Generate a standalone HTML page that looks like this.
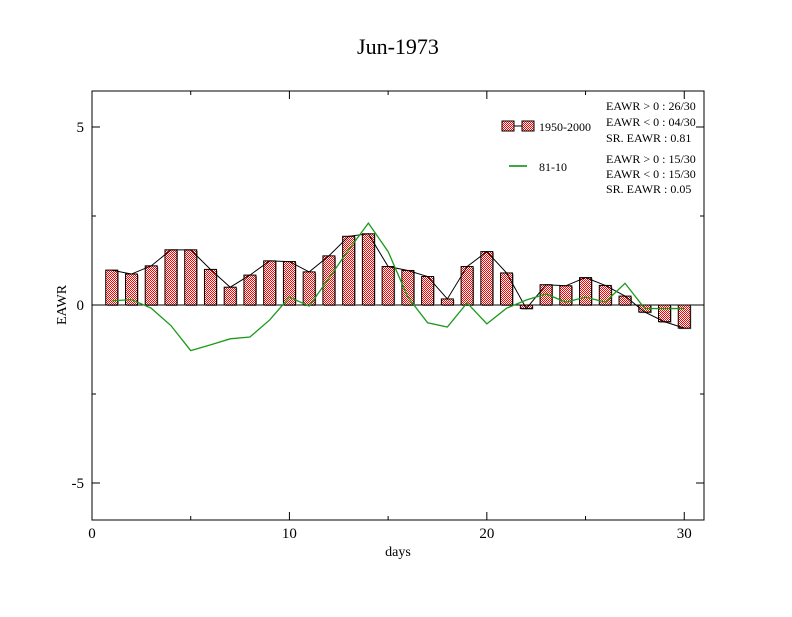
<!DOCTYPE html>
<html><head><meta charset="utf-8"><style>
body{margin:0;background:#fff}
svg text{font-family:"Liberation Serif",serif;fill:#000}
</style></head><body>
<svg id="chart" width="792" height="612" xmlns="http://www.w3.org/2000/svg">
<defs><pattern id="chk" width="2" height="2" patternUnits="userSpaceOnUse"><rect width="2" height="2" fill="#fff"/><rect width="1" height="1" fill="#f00"/><rect x="1" y="1" width="1" height="1" fill="#f00"/></pattern></defs>
<rect width="792" height="612" fill="#fff"/>
<text x="398" y="54" font-size="22" text-anchor="middle">Jun-1973</text>
<g id="marks"></g>
<rect x="92" y="91" width="612" height="429" fill="none" stroke="#000" stroke-width="1"/>
<g id="axes"></g>
<text x="398" y="556" font-size="14" text-anchor="middle">days</text>
<text transform="translate(66,305) rotate(-90)" font-size="14" text-anchor="middle">EAWR</text>
<g font-size="12">
<rect x="502" y="121" width="12" height="10" fill="url(#chk)" stroke="#000"/><line x1="514" y1="126" x2="522" y2="126" stroke="#000"/><rect x="522" y="121" width="12" height="10" fill="url(#chk)" stroke="#000"/>
<text x="539" y="131">1950-2000</text>
<line x1="509" y1="166" x2="527" y2="166" stroke="#080" stroke-width="1.5"/>
<text x="539" y="171">81-10</text>
<text x="606" y="110">EAWR &gt; 0 : 26/30</text>
<text x="606" y="126">EAWR &lt; 0 : 04/30</text>
<text x="606" y="142">SR. EAWR :  0.81</text>
<text x="606" y="163">EAWR &gt; 0 : 15/30</text>
<text x="606" y="178">EAWR &lt; 0 : 15/30</text>
<text x="606" y="193">SR. EAWR :  0.05</text>
</g>
</svg>
<script>
const days=[1,2,3,4,5,6,7,8,9,10,11,12,13,14,15,16,17,18,19,20,21,22,23,24,25,26,27,28,29,30];
const bars=[0.98,0.87,1.1,1.55,1.55,1.0,0.5,0.84,1.24,1.22,0.93,1.38,1.93,2.0,1.08,0.97,0.8,0.17,1.08,1.5,0.9,-0.1,0.57,0.54,0.77,0.55,0.25,-0.2,-0.47,-0.65];
const green=[0.12,0.15,-0.09,-0.58,-1.28,-1.12,-0.95,-0.9,-0.42,0.22,-0.03,0.75,1.55,2.3,1.5,0.22,-0.5,-0.62,0.06,-0.53,-0.09,0.14,0.31,0.08,0.22,0.08,0.61,-0.1,-0.1,-0.1];
const xTicks=[0,10,20,30];
const yTicks=[-5,0,5];
const X=d=>92+d*(612/31);
const Y=v=>305-v*35.6;
const NS="http://www.w3.org/2000/svg";
const marks=document.getElementById('marks'),axes=document.getElementById('axes');
function mk(t,a,p){const e=document.createElementNS(NS,t);for(const k in a)e.setAttribute(k,a[k]);p.appendChild(e);return e;}
// zero line
const z=mk('line',{x1:92,x2:704,y1:Y(0),y2:Y(0),stroke:'#000'},marks);


days.forEach((d,i)=>{
  const v=bars[i],y0=Math.min(Y(v),Y(0)),h=Math.abs(Y(v)-Y(0));
  const s=mk('rect',{x:X(d)-6+1,y:y0+1,width:12,height:h,fill:'#888'},marks);
  
  
  const r=mk('rect',{x:X(d)-6,y:y0,width:12,height:h,fill:'url(#chk)',stroke:'#000','stroke-width':1},marks);
  
  
});
const bl=mk('polyline',{points:days.map((d,i)=>X(d)+','+Y(bars[i])).join(' '),fill:'none',stroke:'#000','stroke-width':1},marks);


const gl=mk('polyline',{points:days.map((d,i)=>X(d)+','+Y(green[i])).join(' '),fill:'none',stroke:'#1a9a1a','stroke-width':1.3},marks);


xTicks.forEach(t=>{
  mk('line',{x1:X(t),x2:X(t),y1:520,y2:512,stroke:'#000'},axes);
  mk('line',{x1:X(t),x2:X(t),y1:91,y2:99,stroke:'#000'},axes);
  const tx=mk('text',{x:X(t),y:538,'font-size':15,'text-anchor':'middle'},axes);tx.textContent=t;
  
  
});
[5,15,25].forEach(t=>{mk('line',{x1:X(t),x2:X(t),y1:520,y2:516,stroke:'#000'},axes);mk('line',{x1:X(t),x2:X(t),y1:91,y2:95,stroke:'#000'},axes);});
yTicks.forEach(t=>{
  mk('line',{x1:92,x2:100,y1:Y(t),y2:Y(t),stroke:'#000'},axes);
  mk('line',{x1:696,x2:704,y1:Y(t),y2:Y(t),stroke:'#000'},axes);
  const tx=mk('text',{x:84,y:Y(t)+5,'font-size':15,'text-anchor':'end'},axes);tx.textContent=t;
  
  
});
[-2.5,2.5].forEach(t=>{mk('line',{x1:92,x2:96,y1:Y(t),y2:Y(t),stroke:'#000'},axes);mk('line',{x1:700,x2:704,y1:Y(t),y2:Y(t),stroke:'#000'},axes);});
</script>
</body></html>
